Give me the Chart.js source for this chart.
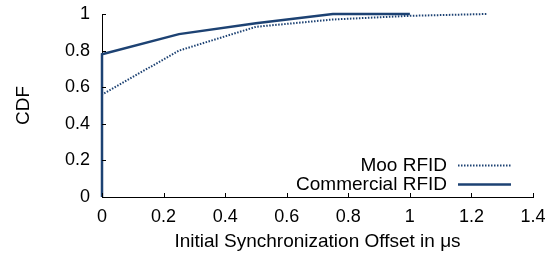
<!DOCTYPE html>
<html>
<head>
<meta charset="utf-8">
<script src="https://cdn.jsdelivr.net/npm/chart.js@4"></script>
<style>
  html, body { margin: 0; padding: 0; background: #fff; }
  #wrap { width: 560px; height: 260px; }
</style>
</head>
<body>
<div id="wrap"><canvas id="cdf" width="560" height="260"></canvas></div>
<script>
// data
const mooX = [0, 0, 0.25, 0.5, 0.75, 1.0, 1.25];
const mooY = [0, 0.56, 0.80, 0.93, 0.97, 0.99, 1.0];
const commX = [0, 0, 0.25, 0.5, 0.75, 1.0];
const commY = [0, 0.78, 0.89, 0.95, 1.0, 1.0];
const seriesNames = ['Moo RFID', 'Commercial RFID'];
const xTicks = [0, 0.2, 0.4, 0.6, 0.8, 1, 1.2, 1.4];
const yTicks = [0, 0.2, 0.4, 0.6, 0.8, 1];

const NAVY = '#1d4273';
const FONT = "'Liberation Sans', Arial, sans-serif";

Chart.defaults.font.family = FONT;
Chart.defaults.font.size = 18;
Chart.defaults.color = '#000';

const pts = (xs, ys) => xs.map((x, i) => ({ x, y: ys[i] }));

// inward ticks + legend drawn at bottom-right, gnuplot style
const gnuplotBits = {
  id: 'gnuplotBits',
  afterDraw(chart) {
    const { ctx, chartArea: a, scales } = chart;
    ctx.save();
    ctx.strokeStyle = '#000';
    ctx.lineWidth = 1;
    ctx.beginPath();
    yTicks.forEach(v => {
      const y = Math.round(scales.y.getPixelForValue(v)) + 0.5;
      ctx.moveTo(a.left, y); ctx.lineTo(a.left + 4, y);
    });
    xTicks.forEach(v => {
      const x = Math.round(scales.x.getPixelForValue(v)) + 0.5;
      ctx.moveTo(x, a.bottom); ctx.lineTo(x, a.bottom - 4);
    });
    ctx.stroke();

    ctx.font = '19px ' + FONT;
    ctx.fillStyle = '#000';
    ctx.textAlign = 'right';
    ctx.textBaseline = 'middle';
    chart.data.datasets.forEach((ds, i) => {
      const y = 165 + i * 19;
      ctx.fillText(ds.label, 447, y + 1);
      ctx.strokeStyle = ds.borderColor;
      ctx.lineWidth = ds.borderWidth;
      ctx.setLineDash(ds.borderDash || []);
      ctx.beginPath();
      ctx.moveTo(458, y + 0.5); ctx.lineTo(511, y + 0.5);
      ctx.stroke();
    });
    ctx.restore();
  }
};

new Chart(document.getElementById('cdf'), {
  type: 'line',
  data: {
    datasets: [
      {
        label: seriesNames[0],
        data: pts(mooX, mooY),
        borderColor: NAVY,
        borderWidth: 2,
        borderDash: [1.5, 1.5],
        pointRadius: 0,
        tension: 0,
        clip: false,
      },
      {
        label: seriesNames[1],
        data: pts(commX, commY),
        borderColor: NAVY,
        borderWidth: 2.5,
        pointRadius: 0,
        tension: 0,
        clip: false,
      },
    ],
  },
  options: {
    responsive: false,
    animation: false,
    layout: { padding: { left: 8, right: 27, top: 14, bottom: 3 } },
    plugins: { legend: { display: false }, tooltip: { enabled: false } },
    scales: {
      x: {
        type: 'linear',
        min: 0, max: 1.4,
        afterBuildTicks: s => { s.ticks = xTicks.map(v => ({ value: v })); },
        afterFit: s => { s.height = 60; s.paddingLeft = 0; s.paddingRight = 0; },
        border: { display: true, color: '#000', width: 1 },
        grid: { display: false, drawTicks: false },
        ticks: { padding: 9, maxRotation: 0, callback: v => String(v) },
        title: { display: true, text: 'Initial Synchronization Offset in μs', font: { size: 19 }, padding: { top: 8 } },
      },
      y: {
        min: 0, max: 1,
        afterBuildTicks: s => { s.ticks = yTicks.map(v => ({ value: v })); },
        afterFit: s => { s.width = 94; s.paddingTop = 0; s.paddingBottom = 0; },
        border: { display: true, color: '#000', width: 1 },
        grid: { display: false, drawTicks: false },
        ticks: { padding: 12, callback: v => String(v) },
        title: { display: true, text: 'CDF', font: { size: 19 }, padding: { bottom: 10 } },
      },
    },
  },
  plugins: [gnuplotBits],
});
</script>
</body>
</html>
